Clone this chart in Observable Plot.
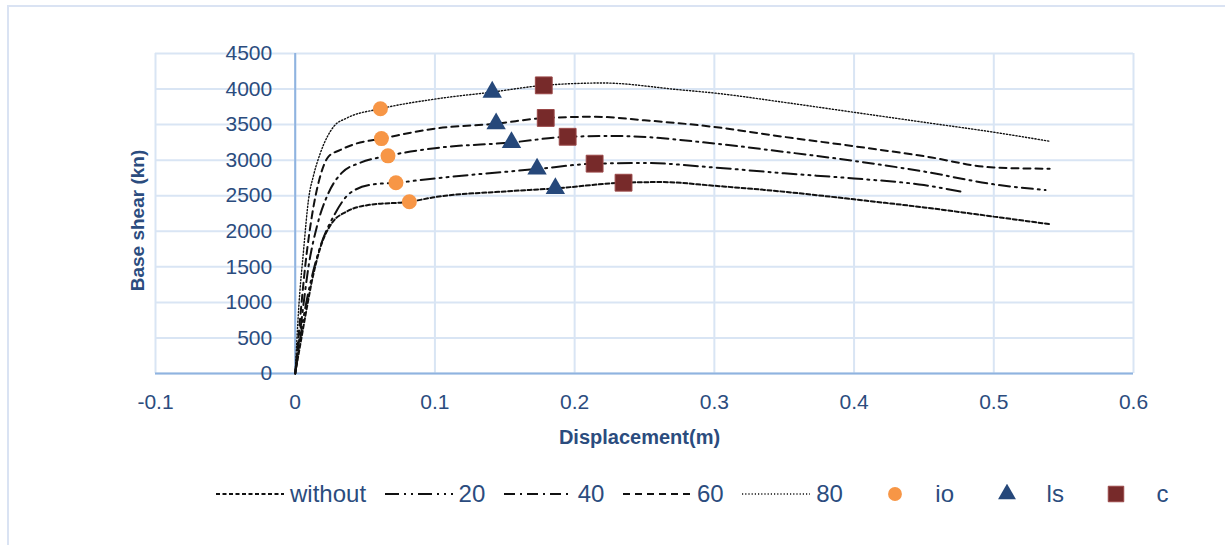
<!DOCTYPE html>
<html><head><meta charset="utf-8">
<script src="https://cdn.jsdelivr.net/npm/d3@7"></script>
<script src="https://cdn.jsdelivr.net/npm/@observablehq/plot@0.6"></script>
<style>
html,body{margin:0;padding:0;background:#fff;overflow:hidden;width:1225px;height:545px;}
#frame{position:absolute;left:7px;top:5px;width:1300px;height:600px;border:2px solid #dae3f3;box-sizing:border-box;}
#chart{position:absolute;left:0;top:0;}
#legend{position:absolute;left:216px;top:480px;display:flex;align-items:center;height:28px;font-family:"Liberation Sans",Arial,sans-serif;font-size:24px;color:#2b4c7e;}
.item{display:flex;align-items:center;margin-right:18.5px;}
.item svg{display:block;margin-right:6px;}
</style></head><body>
<div id="frame"></div>
<div id="chart"></div>
<div id="legend"></div>
<script>
// ---- data ----
const xTicks = [-0.1, 0, 0.1, 0.2, 0.3, 0.4, 0.5, 0.6];
const yTicks = [0, 500, 1000, 1500, 2000, 2500, 3000, 3500, 4000, 4500];

const withoutX = [0, 0.004, 0.0071, 0.0131, 0.019, 0.0262, 0.0369, 0.0536, 0.0817, 0.1, 0.15, 0.1862, 0.235, 0.262, 0.3, 0.35, 0.4, 0.45, 0.5, 0.54];
const withoutY = [0, 450, 792, 1405, 1830, 2113, 2278, 2373, 2415, 2480, 2560, 2603, 2683, 2692, 2640, 2556, 2449, 2336, 2206, 2100];

const s20X = [0, 0.006, 0.0119, 0.0179, 0.0274, 0.0393, 0.056, 0.0721, 0.1, 0.1731, 0.2143, 0.25, 0.3, 0.35, 0.4, 0.45, 0.478];
const s20Y = [0, 792, 1358, 1783, 2208, 2538, 2660, 2683, 2744, 2876, 2951, 2960, 2897, 2815, 2743, 2650, 2551];

const s40X = [0, 0.0048, 0.0095, 0.0155, 0.0238, 0.0333, 0.0464, 0.0664, 0.1, 0.1548, 0.195, 0.23, 0.3, 0.35, 0.4, 0.45, 0.5, 0.537];
const s40Y = [0, 792, 1500, 2066, 2538, 2821, 2962, 3061, 3169, 3249, 3329, 3340, 3234, 3117, 2990, 2840, 2660, 2580];

const s60X = [0, 0.0036, 0.0071, 0.0119, 0.0179, 0.0238, 0.032, 0.044, 0.0617, 0.1, 0.1438, 0.1793, 0.215, 0.25, 0.3, 0.35, 0.4, 0.45, 0.5, 0.54];
const s60Y = [0, 792, 1500, 2208, 2774, 3050, 3141, 3235, 3303, 3444, 3514, 3594, 3610, 3561, 3467, 3327, 3196, 3056, 2897, 2879];

const s80X = [0, 0.0024, 0.006, 0.0095, 0.0133, 0.018, 0.0276, 0.037, 0.061, 0.1, 0.141, 0.178, 0.22, 0.275, 0.3, 0.35, 0.4, 0.45, 0.5, 0.54];
const s80Y = [0, 887, 1736, 2443, 2800, 3100, 3474, 3592, 3723, 3859, 3958, 4052, 4085, 3990, 3944, 3813, 3673, 3533, 3393, 3266];

const ioX = [0.061, 0.0617, 0.0664, 0.0721, 0.0817];
const ioY = [3723, 3303, 3061, 2683, 2415];
const lsX = [0.141, 0.1438, 0.1548, 0.1731, 0.1862];
const lsY = [3958, 3514, 3249, 2876, 2603];
const cX = [0.1779, 0.1793, 0.195, 0.2143, 0.235];
const cY = [4052, 3594, 3329, 2951, 2683];

// ---- styles ----
const seriesDefs = [
  {name: "without", xs: withoutX, ys: withoutY, dash: "4,2.5", width: 2},
  {name: "20", xs: s20X, ys: s20Y, dash: "14,5,2,5,2,5", width: 2},
  {name: "40", xs: s40X, ys: s40Y, dash: "11,5,2,5", width: 2},
  {name: "60", xs: s60X, ys: s60Y, dash: "7,5", width: 2},
  {name: "80", xs: s80X, ys: s80Y, dash: "1.2,2", width: 1.4}
];
const markerDefs = [
  {name: "io", xs: ioX, ys: ioY, symbol: "circle", r: 7.5, fill: "#f79646", stroke: "none"},
  {name: "ls", xs: lsX, ys: lsY, symbol: "triangle", r: 7.2, fill: "#26487a", stroke: "none"},
  {name: "c", xs: cX, ys: cY, symbol: "square", r: 9.5, fill: "#772a2a", stroke: "#9a4848"}
];
const textColor = "#2b4c7e";
const gridColor = "#d9e5f4";
const axisColor = "#8fb3e0";
const font = "'Liberation Sans', Arial, sans-serif";

const toRows = (xs, ys) => xs.map((x, i) => ({x, y: ys[i]}));

const marks = [
  Plot.ruleX(xTicks, {stroke: gridColor, strokeWidth: 2}),
  Plot.ruleY(yTicks, {stroke: gridColor, strokeWidth: 2}),
  Plot.ruleX([0], {stroke: axisColor, strokeWidth: 2}),
  Plot.ruleY([0], {stroke: axisColor, strokeWidth: 2}),
  Plot.text(yTicks, {x: d => 0, y: d => d, text: d => String(d), textAnchor: "end", dx: -23, fill: textColor, fontSize: 21}),
  Plot.text(xTicks, {x: d => d, frameAnchor: "bottom", dy: 35, text: d => String(d), fill: textColor, fontSize: 21}),
  Plot.text(["Displacement(m)"], {frameAnchor: "bottom", dx: -5, dy: 70, text: d => d, fill: textColor, fontSize: 20, fontWeight: "bold"}),
  Plot.text(["Base shear (kn)"], {frameAnchor: "left", textAnchor: "middle", dx: -18, dy: 7, rotate: -90, text: d => d, fill: textColor, fontSize: 19, fontWeight: "bold"})
];
for (const s of seriesDefs) {
  marks.push(Plot.line(toRows(s.xs, s.ys), {x: "x", y: "y", stroke: "#111", strokeWidth: s.width, strokeDasharray: s.dash, curve: "monotone-x"}));
}
for (const m of markerDefs) {
  marks.push(Plot.dot(toRows(m.xs, m.ys), {x: "x", y: "y", symbol: m.symbol, r: m.r, fill: m.fill, stroke: m.stroke, strokeWidth: 1}));
}

const chart = Plot.plot({
  width: 1225,
  height: 460,
  marginLeft: 155,
  marginRight: 92,
  marginTop: 53,
  marginBottom: 87,
  style: {fontFamily: font, background: "transparent", overflow: "visible"},
  x: {domain: [-0.1, 0.6], axis: null},
  y: {domain: [0, 4500], axis: null},
  marks
});
document.getElementById("chart").appendChild(chart);

// ---- legend ----
const legend = d3.select("#legend");
for (const s of seriesDefs) {
  const it = legend.append("div").attr("class", "item");
  const sv = it.append("svg").attr("width", 68).attr("height", 20);
  sv.append("line").attr("x1", 0).attr("x2", 68).attr("y1", 10).attr("y2", 10)
    .attr("stroke", "#111").attr("stroke-width", s.width).attr("stroke-dasharray", s.dash);
  it.append("span").text(s.name);
}
for (const m of markerDefs) {
  const it = legend.append("div").attr("class", "item");
  const sv = it.append("svg").attr("width", 68).attr("height", 20);
  const size = Math.PI * m.r * m.r * 0.85;
  const sym = {circle: d3.symbolCircle, triangle: d3.symbolTriangle, square: d3.symbolSquare}[m.symbol];
  sv.append("path").attr("transform", "translate(34,10)").attr("d", d3.symbol(sym, size)())
    .attr("fill", m.fill).attr("stroke", m.stroke);
  it.append("span").text(m.name);
}
</script>
</body></html>
